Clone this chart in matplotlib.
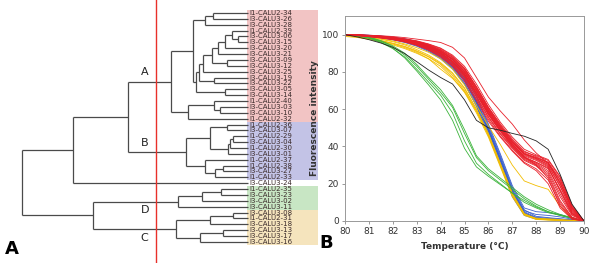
import matplotlib
matplotlib.use('Agg')
import matplotlib.pyplot as plt
from matplotlib.patches import Rectangle

# ---- dendrogram data (leaves in display order, top to bottom) ----
leaf_names = ['I1-CALU2-34', 'I3-CALU3-26', 'I3-CALU3-28', 'I1-CALU2-39', 'I3-CALU3-06',
              'I3-CALU3-15', 'I3-CALU3-20', 'I3-CALU3-21', 'I3-CALU3-09', 'I3-CALU3-12',
              'I3-CALU3-25', 'I3-CALU3-19', 'I3-CALU3-22', 'I3-CALU3-05', 'I3-CALU3-14',
              'I1-CALU2-40', 'I3-CALU3-03', 'I3-CALU3-10', 'I1-CALU2-32',
              'I1-CALU2-36', 'I3-CALU3-07', 'I1-CALU2-29', 'I3-CALU3-04', 'I1-CALU2-30',
              'I3-CALU3-01', 'I1-CALU2-37', 'I1-CALU2-38', 'I3-CALU3-27', 'I1-CALU2-33',
              'I3-CALU3-24',
              'I1-CALU2-35', 'I3-CALU3-23', 'I3-CALU3-02', 'I3-CALU3-11',
              'I3-CALU3-08', 'I1-CALU2-31', 'I3-CALU3-18', 'I3-CALU3-13', 'I3-CALU3-17', 'I3-CALU3-16']

# merges: (child a, child b, distance); new nodes numbered from 40 on
merges = [(0, 1, 0.155), (40, 2, 0.190), (4, 5, 0.044), (3, 42, 0.071), (43, 6, 0.102),
          (44, 7, 0.133), (8, 9, 0.093), (45, 46, 0.159), (47, 10, 0.199), (11, 12, 0.150),
          (48, 49, 0.217), (13, 14, 0.102), (50, 51, 0.230), (41, 52, 0.243), (16, 17, 0.124),
          (15, 54, 0.150), (55, 18, 0.265), (53, 56, 0.341),
          (19, 20, 0.093), (21, 22, 0.066), (59, 23, 0.080), (60, 24, 0.088), (58, 61, 0.168),
          (26, 27, 0.111), (63, 28, 0.146), (25, 64, 0.190), (62, 65, 0.274),
          (57, 66, 0.531), (67, 29, 0.774),
          (30, 31, 0.119), (69, 32, 0.204), (70, 33, 0.310),
          (34, 35, 0.066), (72, 36, 0.168), (37, 38, 0.111), (74, 39, 0.212), (73, 75, 0.319),
          (71, 76, 0.686), (68, 77, 1.0)]
cut_height = 0.407

# cluster groups: (first leaf, last leaf, box colour)
groups = [(0, 18, '#f2c4c4'), (19, 28, '#c3c3e6'), (30, 33, '#c8e6c4'), (34, 39, '#f5e4bd')]
cluster_labels = [('A', 57, -1.7), ('B', 66, -1.6), ('D', 71, 1.4), ('C', 76, 1.5)]

# ---- melting curve data ----
temps = [80, 80.5, 81, 81.5, 82, 82.5, 83, 83.5, 84, 84.5, 85,
         85.5, 86, 86.5, 87, 87.5, 88, 88.5, 89, 89.5, 90]

red_curves = [
    [100, 99.9, 99.7, 99.4, 99.0, 98.4, 97.6, 96.8, 95.8, 93.2, 87.5, 77.0, 66.5, 59.0, 52.0, 43.5, 36.5, 31.0, 20.0, 7.0, 0],
    [100, 99.8, 99.5, 99.0, 98.4, 97.5, 96.4, 94.8, 92.5, 88.5, 82.0, 72.0, 61.0, 51.5, 43.0, 36.0, 33.5, 30.5, 21.0, 6.5, 0],
    [100, 99.7, 99.3, 98.7, 98.0, 97.0, 95.6, 93.6, 90.8, 86.5, 80.0, 70.0, 59.0, 49.5, 41.5, 34.5, 31.5, 28.0, 17.0, 4.5, 0],
    [100, 99.6, 99.1, 98.5, 97.7, 96.6, 95.0, 92.8, 89.6, 85.0, 78.0, 68.0, 57.0, 48.0, 40.0, 33.5, 30.5, 26.0, 13.0, 3.0, 0],
    [100, 99.8, 99.4, 98.9, 98.2, 97.3, 96.0, 94.0, 91.2, 87.0, 80.5, 70.5, 59.5, 50.5, 42.5, 36.5, 34.0, 31.0, 22.0, 7.5, 0],
    [100, 99.5, 99.0, 98.3, 97.4, 96.2, 94.5, 92.0, 88.5, 83.5, 76.0, 65.5, 54.5, 45.5, 38.0, 31.5, 28.0, 22.0, 9.0, 1.5, 0],
    [100, 99.9, 99.6, 99.2, 98.6, 97.8, 96.7, 95.0, 92.8, 89.0, 83.0, 73.5, 62.5, 53.0, 45.0, 38.5, 35.5, 33.0, 24.0, 8.0, 0],
    [100, 99.7, 99.2, 98.6, 97.9, 96.9, 95.4, 93.3, 90.3, 85.8, 79.0, 69.0, 58.0, 49.0, 41.0, 35.0, 32.5, 29.0, 16.0, 4.0, 0],
    [100, 99.6, 99.0, 98.4, 97.6, 96.5, 94.8, 92.5, 89.2, 84.5, 77.5, 67.0, 56.0, 47.0, 39.5, 33.0, 30.0, 25.0, 11.0, 2.0, 0],
    [100, 99.8, 99.5, 99.0, 98.3, 97.4, 96.2, 94.4, 91.8, 87.8, 81.5, 71.5, 60.5, 51.0, 43.5, 37.0, 35.0, 32.5, 23.5, 8.5, 0],
    [100, 99.7, 99.2, 98.6, 97.8, 96.7, 95.2, 93.0, 90.0, 85.5, 78.5, 68.5, 57.5, 48.5, 40.5, 34.0, 31.0, 27.0, 14.5, 3.5, 0],
    [100, 99.8, 99.4, 98.8, 98.1, 97.1, 95.8, 93.8, 91.0, 86.8, 80.0, 70.0, 59.0, 50.0, 42.0, 35.5, 33.0, 29.5, 18.5, 5.0, 0],
    [100, 99.6, 99.1, 98.4, 97.5, 96.3, 94.6, 92.2, 88.8, 84.0, 77.0, 66.5, 55.5, 46.5, 39.0, 32.5, 29.5, 24.0, 10.0, 2.0, 0],
    [100, 99.9, 99.6, 99.1, 98.5, 97.6, 96.4, 94.6, 92.0, 88.0, 81.8, 72.0, 61.0, 52.0, 44.0, 37.5, 34.5, 31.5, 20.5, 6.0, 0],
    [100, 99.7, 99.3, 98.7, 97.9, 96.8, 95.3, 93.2, 90.2, 85.7, 78.8, 68.8, 58.0, 49.0, 41.0, 34.5, 30.0, 23.0, 8.0, 1.0, 0],
    [100, 99.8, 99.5, 99.0, 98.3, 97.3, 96.0, 94.1, 91.5, 87.3, 81.0, 71.0, 60.0, 50.5, 42.5, 36.0, 33.5, 30.0, 19.0, 5.5, 0],
    [100, 99.5, 98.9, 98.2, 97.3, 96.0, 94.2, 91.6, 88.0, 83.0, 75.0, 64.5, 53.5, 45.0, 37.5, 31.0, 27.0, 20.0, 7.0, 1.0, 0],
    [100, 99.8, 99.4, 98.9, 98.2, 97.2, 95.9, 93.9, 91.0, 86.6, 79.8, 69.8, 58.8, 49.8, 42.0, 36.0, 34.0, 31.5, 22.5, 7.0, 0],
    [100, 99.7, 99.2, 98.5, 97.7, 96.6, 95.1, 92.9, 89.9, 85.2, 78.2, 68.2, 57.2, 48.2, 40.2, 34.0, 31.5, 28.5, 16.5, 4.0, 0],
]
blue_curves = [
    [100, 99.8, 99.4, 98.8, 98.0, 96.8, 95.0, 92.5, 89.0, 83.5, 76.0, 64.0, 49.0, 33.0, 16.0, 4.5, 1.5, 1.0, 0.7, 0.4, 0],
    [100, 99.9, 99.6, 99.1, 98.4, 97.4, 95.8, 93.5, 90.5, 85.5, 78.0, 66.5, 51.0, 35.0, 18.0, 6.0, 2.5, 1.8, 1.2, 0.6, 0],
    [100, 99.7, 99.2, 98.5, 97.5, 96.2, 94.2, 91.5, 87.5, 82.0, 74.0, 62.0, 47.0, 31.0, 14.0, 3.5, 1.2, 0.8, 0.5, 0.3, 0],
    [100, 99.8, 99.5, 99.0, 98.2, 97.0, 95.4, 93.0, 89.8, 84.5, 77.0, 65.0, 50.0, 34.0, 17.0, 5.0, 2.0, 1.5, 1.0, 0.5, 0],
    [100, 99.6, 99.0, 98.2, 97.2, 95.8, 93.8, 91.0, 87.0, 81.5, 73.5, 61.5, 46.0, 30.0, 13.0, 3.0, 1.0, 0.7, 0.5, 0.3, 0],
    [100, 99.9, 99.7, 99.3, 98.7, 97.8, 96.4, 94.2, 91.2, 86.5, 79.0, 67.5, 52.0, 36.0, 19.0, 7.0, 5.0, 4.5, 3.5, 1.5, 0],
    [100, 99.8, 99.3, 98.7, 97.9, 96.6, 94.7, 92.0, 88.5, 83.0, 75.5, 63.0, 48.0, 32.0, 15.0, 4.0, 1.3, 0.9, 0.6, 0.3, 0],
    [100, 99.7, 99.3, 98.6, 97.7, 96.4, 94.5, 91.8, 88.0, 82.5, 75.0, 63.5, 48.5, 32.5, 15.5, 4.2, 1.6, 1.2, 0.8, 0.4, 0],
    [100, 99.9, 99.5, 98.9, 98.1, 96.9, 95.2, 92.8, 89.5, 84.0, 76.5, 64.5, 49.5, 33.5, 16.5, 5.5, 3.5, 3.0, 2.2, 1.0, 0],
    [100, 99.8, 99.4, 98.8, 97.9, 96.7, 94.9, 92.3, 88.8, 83.2, 75.8, 63.8, 48.8, 32.8, 15.8, 4.3, 1.4, 1.0, 0.7, 0.4, 0],
]
yellow_curves = [
    [100, 99.0, 98.0, 96.8, 95.3, 93.5, 91.0, 88.0, 84.0, 78.0, 70.0, 59.0, 46.0, 30.0, 14.0, 3.5, 1.0, 0.6, 0.4, 0.2, 0],
    [99.0, 98.5, 97.5, 96.2, 94.5, 92.5, 90.0, 87.0, 83.0, 77.0, 69.0, 58.0, 45.0, 29.0, 13.0, 3.0, 0.8, 0.5, 0.3, 0.2, 0],
    [100, 99.3, 98.5, 97.5, 96.2, 94.5, 92.0, 89.0, 85.0, 79.5, 71.5, 60.0, 47.0, 31.0, 15.0, 4.0, 1.2, 0.8, 0.5, 0.3, 0],
    [99.5, 98.8, 97.8, 96.5, 95.0, 93.0, 90.5, 87.0, 81.5, 76.5, 69.5, 59.0, 46.5, 30.5, 14.5, 3.8, 1.1, 0.7, 0.4, 0.2, 0],
    [100, 99.5, 98.8, 97.8, 96.6, 95.0, 93.0, 90.5, 87.0, 81.5, 73.0, 62.0, 51.0, 41.0, 30.0, 21.5, 19.0, 17.0, 8.0, 1.5, 0],
    [99.5, 98.8, 97.9, 96.8, 95.4, 93.7, 91.3, 88.3, 84.5, 79.0, 71.0, 60.0, 46.0, 30.0, 14.0, 3.5, 1.5, 1.2, 0.8, 0.4, 0],
]
green_curves = [
    [100, 99.5, 98.5, 96.5, 93.5, 89.0, 83.0, 76.0, 69.0, 61.0, 47.0, 34.0, 27.0, 22.0, 17.0, 12.0, 8.0, 5.0, 3.0, 1.5, 0],
    [100, 99.3, 98.0, 95.8, 92.5, 88.0, 81.5, 74.5, 67.5, 58.0, 43.0, 31.0, 25.0, 20.0, 15.0, 10.0, 7.0, 4.5, 3.0, 1.5, 0],
    [100, 99.4, 98.3, 96.0, 92.8, 87.5, 80.5, 73.0, 65.0, 54.0, 39.0, 29.0, 24.0, 19.5, 15.0, 11.0, 7.5, 5.0, 3.2, 1.6, 0],
    [100, 99.6, 98.7, 96.8, 94.0, 90.0, 84.0, 77.0, 70.5, 62.0, 49.0, 35.0, 28.0, 23.0, 18.0, 13.0, 9.0, 6.0, 3.5, 1.8, 0],
]
black_curve = [100, 98.8, 97.3, 95.5, 93.2, 89.8, 85.5, 81.0, 77.0, 73.5, 65.0, 54.0, 50.0, 48.7,
               47.0, 45.5, 43.0, 38.5, 25.0, 9.0, 0]

fig = plt.figure(figsize=(6, 2.63), dpi=100)

# ---------------- panel A: dendrogram ----------------
ax1 = fig.add_axes([0, 0, 320 / 600, 1])
ax1.set_xlim(248 / 226, -72 / 226)
ax1.set_ylim(250 / 5.87, -13 / 5.87)
ax1.axis('off')

for first, last, col in groups:
    ax1.add_patch(Rectangle((0.004, first - 0.5), -0.314, last - first + 1,
                            facecolor=col, edgecolor='none', zorder=0))
for i, name in enumerate(leaf_names):
    ax1.text(-0.008, i, name, fontsize=5.0, va='center', ha='left', color='#3a2a2a')

ypos = {i: float(i) for i in range(len(leaf_names))}
hgt = {i: 0.0 for i in range(len(leaf_names))}
node = len(leaf_names)
for a, b, h in merges:
    for c in (a, b):
        ax1.plot([hgt[c], h], [ypos[c], ypos[c]], color='#4a4a4a', lw=0.9, solid_capstyle='butt')
    ax1.plot([h, h], [ypos[a], ypos[b]], color='#4a4a4a', lw=0.9, solid_capstyle='butt')
    ypos[node] = (ypos[a] + ypos[b]) / 2
    hgt[node] = h
    node += 1

ax1.axvline(cut_height, color='#e8302a', lw=1.0)
for lab, nd, dy in cluster_labels:
    ax1.text(cut_height + 0.05, ypos[nd] + dy, lab, fontsize=8, ha='center', va='center',
             color='#222222')

fig.text(12 / 600, 1 - 249 / 263, 'A', fontsize=13, fontweight='bold', ha='center', va='center')
fig.text(326 / 600, 1 - 243 / 263, 'B', fontsize=13, fontweight='bold', ha='center', va='center')

# ---------------- panel B: melting curves ----------------
ax2 = fig.add_axes([345 / 600, 42 / 263, 239 / 600, 205 / 263])
for ys in blue_curves:
    ax2.plot(temps, ys, color='#3a5fcd', lw=0.6)
for ys in yellow_curves:
    ax2.plot(temps, ys, color='#f2bd00', lw=0.6)
for ys in green_curves:
    ax2.plot(temps, ys, color='#3cb43c', lw=0.6)
for ys in red_curves:
    ax2.plot(temps, ys, color='#e8202a', lw=0.6)
ax2.plot(temps, black_curve, color='#222222', lw=0.6)

ax2.set_xlim(80, 90)
ax2.set_ylim(0, 110)
ax2.set_xticks(range(80, 91))
ax2.set_yticks(range(0, 101, 20))
ax2.tick_params(labelsize=6.5, length=2.5, width=0.6, color='#888888', labelcolor='#333333', pad=2)
for sp in ax2.spines.values():
    sp.set_color('#999999')
    sp.set_linewidth(0.7)
ax2.set_xlabel('Temperature (°C)', fontsize=6.5, fontweight='bold', color='#333333', labelpad=4)
ax2.set_ylabel('Fluorescence intensity', fontsize=6.5, fontweight='bold', color='#333333', labelpad=2)

fig.savefig('out.png', dpi=100)
